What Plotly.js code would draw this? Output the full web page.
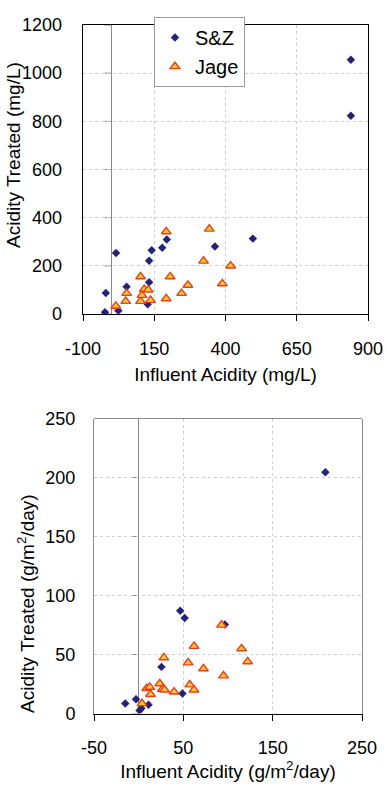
<!DOCTYPE html>
<html>
<head>
<meta charset="utf-8">
<script src="https://cdn.plot.ly/plotly-3.0.1.min.js"></script>
<style>html,body{margin:0;padding:0;background:#fff;}#chart{width:386px;height:800px;}</style>
</head>
<body>
<div id="chart"></div>
<script>
// ---- Data ----
var seriesNames = ["S&Z", "Jage"];

// Top panel: concentration (mg/L)
var szTopX = [-23, -20, 16, 24, 53, 132, 141, 132, 127, 178, 194, 363, 496, 840, 840];
var szTopY = [7, 87, 253, 14, 113, 221, 265, 132, 40, 275, 309, 280, 313, 1056, 823];
var jageTopX = [15, 50, 53, 102, 102, 107, 115, 129, 137, 192, 192, 206, 246, 268, 323, 343, 389, 418];
var jageTopY = [33, 53, 86, 155, 53, 78, 103, 100, 57, 342, 64, 155, 86, 120, 220, 353, 126, 200];

// Bottom panel: loading (g/m2/day)
var szBotX = [-15, -3, 1, 3, 11, 25.5, 46.5, 51.5, 49, 96.5, 209];
var szBotY = [8.5, 12, 2.5, 4.5, 7.5, 39.5, 87, 81, 17, 75.5, 204.5];
var jageBotX = [3.7, 9, 12.5, 13.2, 23.6, 26.6, 28.2, 29, 39.6, 55.4, 57.2, 62, 62, 72.6, 92.8, 95, 115.2, 122];
var jageBotY = [8.5, 21.3, 22.3, 16.2, 25.3, 20.7, 47.3, 20, 18.3, 43, 24.4, 57, 20, 38, 75, 32, 55, 44];

var topXTicks = [-100, 150, 400, 650, 900];
var topXTickText = ["-100", "150", "400", "650", "900"];
var topYTicks = [0, 200, 400, 600, 800, 1000, 1200];
var botXTicks = [-50, 50, 150, 250];
var botXTickText = ["-50", "50", "150", "250"];
var botYTicks = [0, 50, 100, 150, 200, 250];

var topXTitle = "Influent Acidity (mg/L)";
var topYTitle = "Acidity Treated (mg/L)";
var botXTitle = "Influent Acidity (g/m<sup>2</sup>/day)";
var botYTitle = "Acidity Treated (g/m<sup>2</sup>/day)";

// ---- Layout geometry ----
var W = 386, H = 800;
var topDomX = [83 / W, 368 / W], topDomY = [1 - 314 / H, 1 - 25 / H];
var botDomX = [94 / W, 362 / W], botDomY = [1 - 713.5 / H, 1 - 418.5 / H];
var topRangeX = [-100, 900], topRangeY = [0, 1200];
var botRangeX = [-50, 250], botRangeY = [0, 250];

var FONT = "Liberation Sans, Arial, sans-serif";
var navy = "#23237a";
var triFill = "#ffc832", triLine = "#e5401c";

var diamond = {symbol: "diamond", size: 6.5, color: navy, line: {width: 0}};
var triangle = {symbol: "triangle-up", size: 8.5, color: triFill, line: {color: triLine, width: 1.4}};

var traces = [
  {type: "scatter", mode: "markers", name: seriesNames[0], x: szTopX, y: szTopY, xaxis: "x", yaxis: "y", marker: diamond},
  {type: "scatter", mode: "markers", name: seriesNames[1], x: jageTopX, y: jageTopY, xaxis: "x", yaxis: "y", marker: triangle},
  {type: "scatter", mode: "markers", name: seriesNames[0], x: szBotX, y: szBotY, xaxis: "x2", yaxis: "y2", marker: diamond, showlegend: false},
  {type: "scatter", mode: "markers", name: seriesNames[1], x: jageBotX, y: jageBotY, xaxis: "x2", yaxis: "y2", marker: triangle, showlegend: false}
];

var grid = {showgrid: true, gridcolor: "#cfcfcf", griddash: "dot", gridwidth: 1};
var tickFont = {family: FONT, size: 18, color: "#000"};
var titleFont = {family: FONT, size: 19, color: "#000"};

// small tick marks on the vertical line x = 0 (Excel-style crossing axis)
function zeroTicks(xref, yref, vals) {
  return vals.map(function (v) {
    return {type: "line", xref: xref, yref: yref, xsizemode: "pixel", xanchor: 0,
            x0: -7, x1: 0, y0: v, y1: v, line: {color: "#8a8a8a", width: 1}, layer: "below"};
  });
}

var shapes = [
  {type: "line", xref: "x2 domain", yref: "y2 domain", x0: 0, x1: 1, y0: 1, y1: 1,
   line: {color: "#8a8a8a", width: 1}, layer: "below"}
].concat(zeroTicks("x", "y", topYTicks)).concat(zeroTicks("x2", "y2", botYTicks));

var layout = {
  width: W, height: H,
  margin: {l: 0, r: 0, t: 0, b: 0},
  paper_bgcolor: "#fff", plot_bgcolor: "#fff",
  font: {family: FONT, color: "#000"},
  showlegend: true,
  legend: {
    x: 154 / W, y: 1 - 17 / H, xanchor: "left", yanchor: "top",
    bgcolor: "#fff", bordercolor: "#9a9a9a", borderwidth: 1,
    font: {family: FONT, size: 20, color: "#000"},
    itemwidth: 30, tracegroupgap: 0
  },
  xaxis: Object.assign({
    domain: topDomX, range: topRangeX, anchor: "y",
    tickmode: "array", tickvals: topXTicks, ticktext: topXTickText,
    ticks: "outside", ticklen: 6, tickcolor: "#000",
    ticklabelstandoff: 12,
    showline: true, linecolor: "#000", linewidth: 1.3, mirror: true,
    zeroline: true, zerolinecolor: "#8a8a8a", zerolinewidth: 1,
    tickfont: tickFont,
    title: {text: topXTitle, font: titleFont, standoff: 9}
  }, grid),
  yaxis: Object.assign({
    domain: topDomY, range: topRangeY, anchor: "x",
    tickmode: "array", tickvals: topYTicks, ticks: "",
    ticklabelstandoff: 16,
    showline: true, linecolor: "#000", linewidth: 1.3, mirror: true,
    zeroline: false, tickfont: tickFont
  }, grid),
  xaxis2: Object.assign({
    domain: botDomX, range: botRangeX, anchor: "y2",
    tickmode: "array", tickvals: botXTicks, ticktext: botXTickText,
    ticks: "outside", ticklen: 6, tickcolor: "#000",
    ticklabelstandoff: 12,
    showline: true, linecolor: "#000", linewidth: 1.3, mirror: false,
    zeroline: true, zerolinecolor: "#8a8a8a", zerolinewidth: 1,
    tickfont: tickFont,
    title: {text: botXTitle, font: titleFont, standoff: 6}
  }, grid),
  yaxis2: Object.assign({
    domain: botDomY, range: botRangeY, anchor: "x2",
    tickmode: "array", tickvals: botYTicks, ticks: "",
    ticklabelstandoff: 14,
    showline: true, linecolor: "#8a8a8a", linewidth: 1, mirror: true,
    zeroline: false, tickfont: tickFont
  }, grid),
  shapes: shapes,
  annotations: [
    {text: topYTitle, xref: "paper", yref: "paper", x: 14 / W, y: 1 - 155 / H,
     xanchor: "center", yanchor: "middle", textangle: -90, showarrow: false, font: titleFont},
    {text: botYTitle, xref: "paper", yref: "paper", x: 26 / W, y: 1 - 604 / H,
     xanchor: "center", yanchor: "middle", textangle: -90, showarrow: false, font: titleFont}
  ]
};

Plotly.newPlot("chart", traces, layout, {displayModeBar: false, staticPlot: true});
</script>
</body>
</html>
